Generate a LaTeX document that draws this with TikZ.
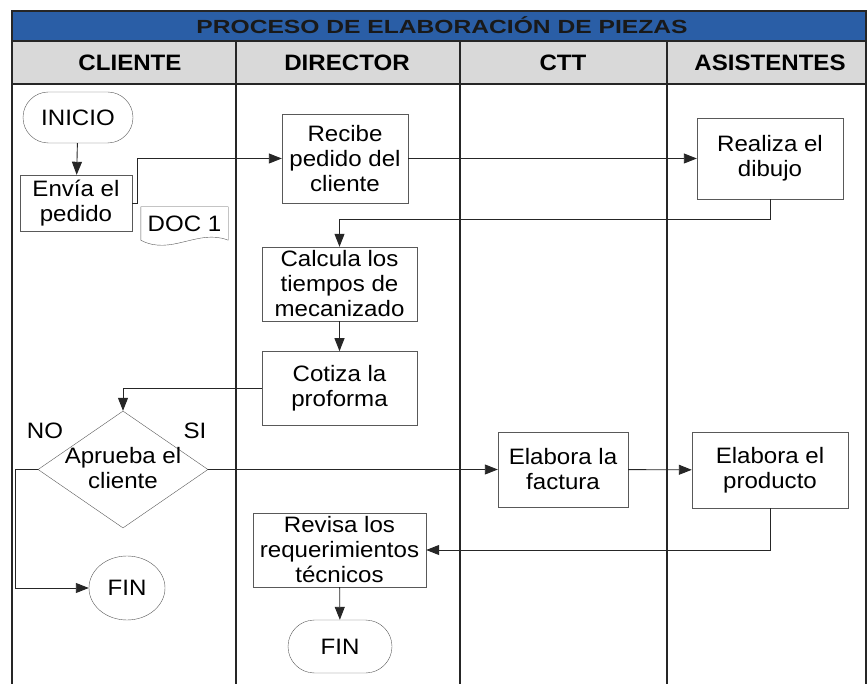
\documentclass[tikz,border=0pt]{standalone}
\usepackage{fontspec}
\setmainfont[FakeStretch=1.08]{Liberation Sans}
\usepackage{tikz}
\usetikzlibrary{shapes.geometric, shapes.misc, positioning, arrows.meta}

\definecolor{titleblue}{RGB}{42,94,166}
\definecolor{headgray}{RGB}{217,217,217}

\begin{document}
\begin{tikzpicture}[x=1pt, y=-1pt,
		font=\fontsize{22.3}{25}\selectfont,
		proc/.style={draw=black!65, rectangle, align=center, inner sep=0pt},
		term/.style={draw=black!65, rounded rectangle, align=center, inner sep=0pt},
		decide/.style={draw=black!65, diamond, inner sep=0pt},
		endcirc/.style={draw=black!65, ellipse, inner sep=0pt},
		lane/.style={line width=1.4pt, black!85},
		head/.style={font=\fontsize{22.3}{22}\selectfont\bfseries},
		flow/.style={-{Triangle[length=13pt,width=10pt]}, black!85, line width=0.9pt}]
		\useasboundingbox (0,0) rectangle (868,684);
		
		% swimlanes
		\fill[titleblue] (12,11) rectangle (866,41);
		\fill[headgray] (12,41) rectangle (866,84);
		\draw[lane] (12,684) -- (12,11) -- (866,11) -- (866,684);
		\draw[lane] (12,41) -- (866,41) (12,84) -- (866,84);
		\foreach \x in {236,460,667}
			\draw[lane] (\x,41) -- (\x,684);
		
		\node[font=\fontsize{19}{20}\selectfont\bfseries, text=black!90] (title) at (442,25.5)
			{\scalebox{1.2}[1]{PROCESO DE ELABORACIÓN DE PIEZAS}};
		\node[head] (hcliente) at (130,62.5) {CLIENTE};
		\node[head] (hdirector) at (347,62.5) {DIRECTOR};
		\node[head] (hctt) at (563,62.5) {CTT};
		\node[head] (hasist) at (770,62.5) {ASISTENTES};
		
		% nodes
		\node[term, minimum width=110, minimum height=51] (inicio) at (78,117.5) {INICIO};
		\node[proc, minimum width=112, minimum height=56] (envia) at (76,203) {Envía el\\pedido};
		\node[inner sep=0pt, minimum width=87, minimum height=33] (doc) at (184.5,223.5) {DOC 1};
		\node[proc, minimum width=126, minimum height=89] (recibe) at (345,158.5) {Recibe\\pedido del\\cliente};
		\node[proc, minimum width=146, minimum height=81] (realiza) at (770,158.5) {Realiza el\\dibujo};
		\node[proc, minimum width=155, minimum height=74] (calcula) at (339.5,284) {Calcula los\\tiempos de\\mecanizado};
		\node[proc, minimum width=155, minimum height=74, below=30pt of calcula] (cotiza) {Cotiza la\\proforma};
		\node[decide, minimum width=170, minimum height=117,
			label={[align=center, yshift=1pt]center:Aprueba el\\cliente}] (aprueba) at (123,469.5) {};
		\node (no) at (45,431) {NO};
		\node (si) at (195,431) {SI};
		\node[endcirc, minimum width=76, minimum height=64] (fin1) at (127,588) {FIN};
		\node[proc, minimum width=130, minimum height=75] (factura) at (563,469.5) {Elabora la\\factura};
		\node[proc, minimum width=156, minimum height=76] (producto) at (770,470) {Elabora el\\producto};
		\node[proc, minimum width=173, minimum height=74] (revisa) at (339.5,550) {Revisa los\\requerimientos\\técnicos};
		\node[term, minimum width=104, minimum height=53] (fin2) at (340,646.5) {FIN};
		
		% document symbol
		\draw[black!65] (doc.south west) -- (doc.north west) -- (doc.north east) -- (doc.south east)
			.. controls +(-30,-12) and +(30,16) .. (doc.south west);
		
		% connectors
		\draw[flow] (inicio) -- (envia);
		\draw[flow] (envia.east) -- ++(5,0) |- (recibe.west);
		\draw[flow] (recibe) -- (realiza);
		\draw[flow] (realiza.south) -- ++(0,20) -| (calcula.north);
		\draw[flow] (calcula) -- (cotiza);
		\draw[flow] (cotiza.west) -| (aprueba.north);
		\draw[flow] (aprueba.west) -- ++(-22,0) |- (fin1.west);
		\draw[flow] (aprueba.east) -- (aprueba.east -| factura.west);
		\draw[flow] (factura) -- (producto);
		\draw[flow] (producto.south) |- (revisa.east);
		\draw[flow] (revisa) -- (fin2);
	\end{tikzpicture}
\end{document}
